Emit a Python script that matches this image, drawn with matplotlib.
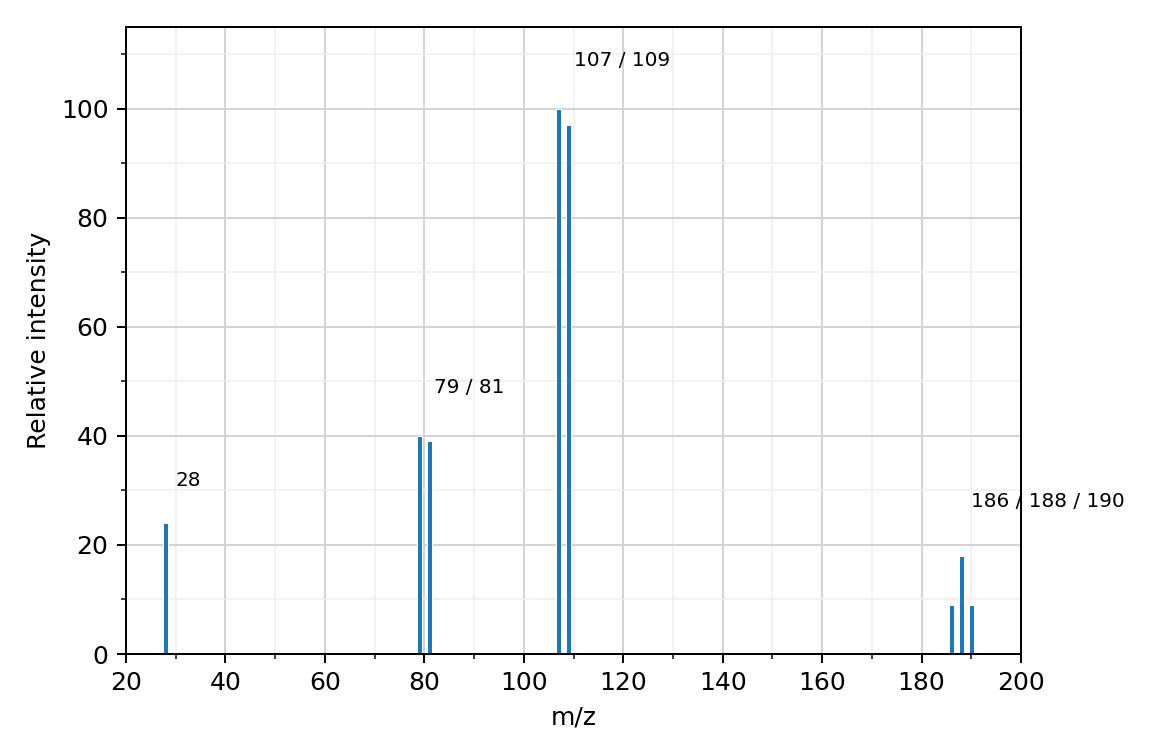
import matplotlib
matplotlib.use("Agg")
import matplotlib.pyplot as plt
from matplotlib.ticker import MultipleLocator

mz = [28, 79, 81, 107, 109, 186, 188, 190]
intensity = [24, 40, 39, 100, 97, 9, 18, 9]

labels = ["28", "79 / 81", "107 / 109", "186 / 188 / 190"]
label_x = [30, 82, 110, 190]
label_y = [30.8, 47.8, 107.9, 27.0]

fig = plt.figure(figsize=(6.4, 4.2), dpi=180)
ax = fig.add_axes([126/1152, 1 - 654/756, (1021 - 126)/1152, (654 - 27)/756])

ax.set_axisbelow(True)
ax.bar(mz, intensity, width=1.0, color="#1f77b4", edgecolor="white",
       linewidth=0.4, zorder=2)

for t, x, y in zip(labels, label_x, label_y):
    ax.text(x, y, t, fontsize=8, va="baseline", ha="left")

ax.set_xlim(20, 200)
ax.set_ylim(0, 115)
ax.xaxis.set_major_locator(MultipleLocator(20))
ax.xaxis.set_minor_locator(MultipleLocator(10))
ax.yaxis.set_major_locator(MultipleLocator(20))
ax.yaxis.set_minor_locator(MultipleLocator(10))
ax.grid(which="major", color="#d2d4da", linewidth=0.8)
ax.grid(which="minor", color="#eeeef0", linewidth=0.6)

ax.set_xlabel("m/z")
ax.set_ylabel("Relative intensity")

fig.savefig("out.png", dpi=180)
